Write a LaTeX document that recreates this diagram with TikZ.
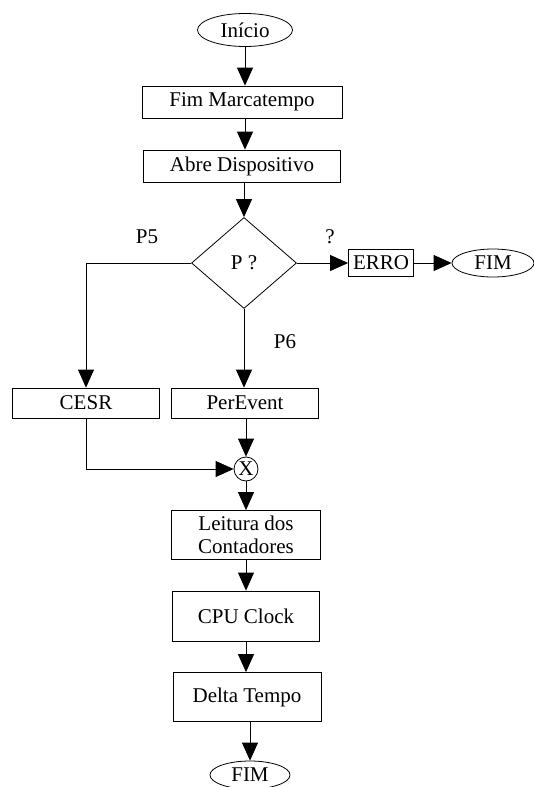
\documentclass[tikz,border=0pt]{standalone}
\usepackage{fontspec}
\setmainfont{Liberation Serif}
\usetikzlibrary{arrows.meta,shapes.geometric}

\tikzset{
  caixa/.style={draw, rectangle, inner sep=0pt, font=\fontsize{21}{23}\selectfont},
  oval/.style={draw, ellipse, inner sep=0pt, font=\fontsize{21}{23}\selectfont},
  rotulo/.style={inner sep=0pt, font=\fontsize{21}{23}\selectfont},
  seta/.style={-{Triangle[length=18pt,width=16pt]}}
}

\begin{document}
\begin{tikzpicture}[x=1pt, y=-1pt, line width=0.8pt]
    \useasboundingbox (0,0) rectangle (534,787);
    % main column
    \node[oval, minimum width=95pt, minimum height=33pt] (inicio) at (245,30) {Início};
    \node[caixa, minimum width=200pt, minimum height=32pt] (fimmarca) at (242,102) {Fim Marcatempo};
    \node[caixa, minimum width=197pt, minimum height=32pt] (abre) at (242,166) {Abre Dispositivo};
    \node[draw, diamond, inner sep=0pt, minimum width=105pt, minimum height=91pt,
          font=\fontsize{21}{23}\selectfont] (pq) at (244,263) {P ?};
    \node[caixa, minimum width=65pt, minimum height=27pt] (erro) at (381,263) {ERRO};
    \node[oval, minimum width=82pt, minimum height=28pt] (fimerro) at (493,263) {FIM};
    \node[caixa, minimum width=147pt, minimum height=30pt] (cesr) at (86,403) {CESR};
    \node[caixa, minimum width=147pt, minimum height=30pt] (perevent) at (245,403) {PerEvent};
    \node[draw, circle, inner sep=0pt, minimum size=24pt,
          font=\fontsize{21}{23}\selectfont] (juncao) at (246,469) {X};
    \node[caixa, minimum width=149pt, minimum height=49pt, align=center] (leitura) at (246,535)
      {Leitura dos\\Contadores};
    \node[caixa, minimum width=147pt, minimum height=50pt] (cpu) at (246,616) {CPU Clock};
    \node[caixa, minimum width=148pt, minimum height=49pt] (delta) at (247,697) {Delta Tempo};
    \node[oval, minimum width=80pt, minimum height=28pt] (fim) at (250,775) {FIM};
    % labels
    \node[rotulo] (lp5) at (147,237) {P5};
    \node[rotulo] (lerr) at (330,237) {?};
    \node[rotulo] (lp6) at (285,342) {P6};
    % connectors
    \draw[seta] (inicio) -- (inicio |- fimmarca.north);
    \draw[seta] (fimmarca.south -| inicio) -- (inicio |- abre.north);
    \draw[seta] (abre.south -| pq) -- (pq);
    \draw[seta] (pq.east) -- (erro.west);
    \draw[seta] (erro) -- (fimerro);
    \draw[seta] (pq.west) -| (cesr.north);
    \draw[seta] (pq.south) -- (pq.south |- perevent.north);
    \draw[seta] (perevent.south -| juncao) -- (juncao);
    \draw[seta] (cesr.south) |- (juncao.west);
    \draw[seta] (juncao) -- (juncao |- leitura.north);
    \draw[seta] (leitura.south -| cpu) -- (cpu);
    \draw[seta] (cpu) -- (cpu |- delta.north);
    \draw[seta] (delta.south -| fim) -- (fim);
\end{tikzpicture}
\end{document}
